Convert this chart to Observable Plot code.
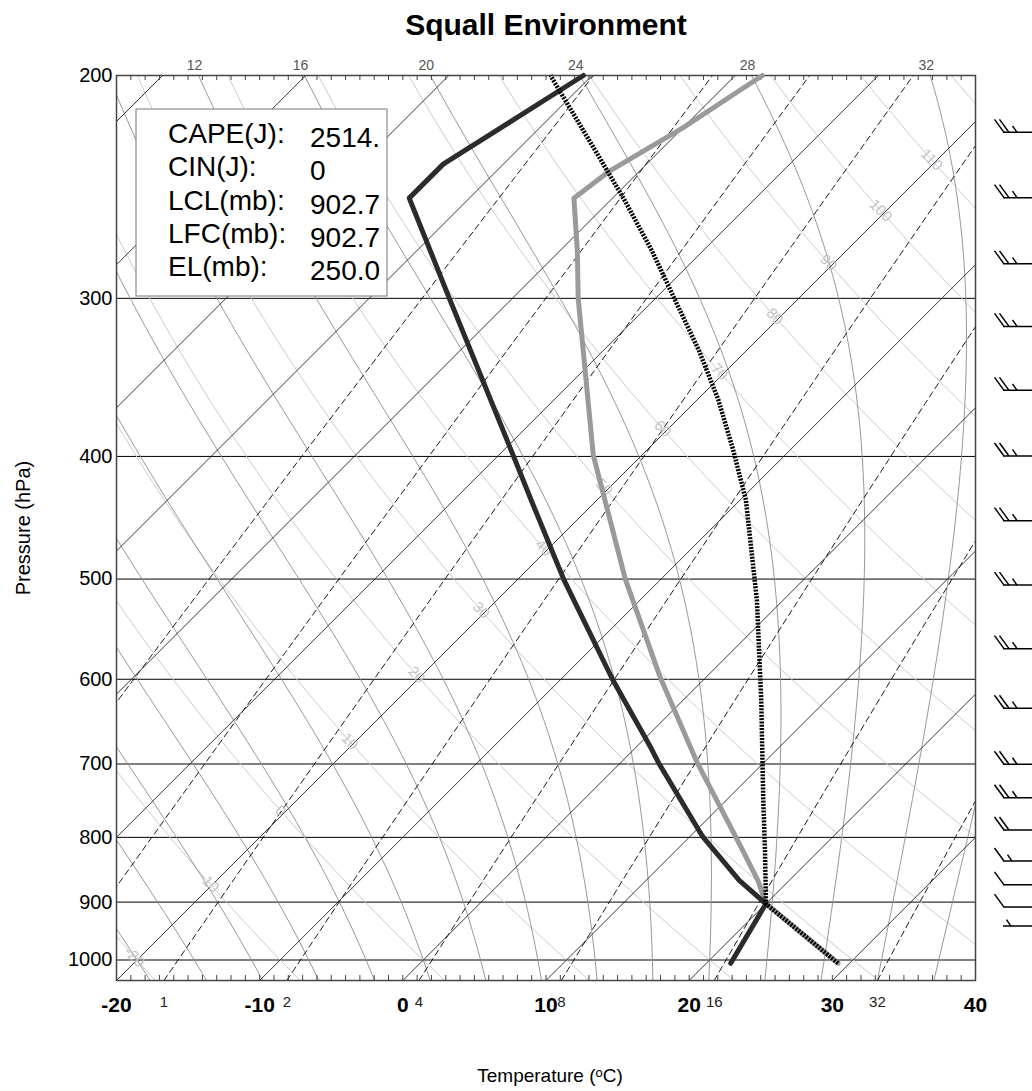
<!DOCTYPE html>
<html>
<head>
<meta charset="utf-8">
<script src="https://cdn.jsdelivr.net/npm/d3@7"></script>
<script src="https://cdn.jsdelivr.net/npm/@observablehq/plot@0.6"></script>
<style>
  body { margin: 0; background: #fff; }
</style>
</head>
<body>
<div id="chart"></div>
<script>
// ---------------- data ----------------
const pTop = 200, pBottom = 1038;
const pressureTicks = [200, 300, 400, 500, 600, 700, 800, 900, 1000];
const isobars = [300, 400, 500, 600, 700, 800, 900, 1000];
const tempTicks = [-20, -10, 0, 10, 20, 30, 40];
const minorTempTicks = d3.range(-20, 41, 1);
const isotherms = d3.range(-80, 41, 10);
const dryThetas = d3.range(-20, 121, 10);          // dry adiabats (theta, degC)
const dryLabelThetas = d3.range(-20, 111, 10);
const moistThetaW = d3.range(-20, 37, 4);          // moist adiabats (theta-w, degC)
const mixingRatios = [0.2, 0.5, 1, 2, 4, 8, 16, 32]; // g/kg
const mixingLabels = [1, 2, 4, 8, 16, 32];

// environmental temperature (hPa, degC)
const tempP = [1006, 902.7, 865, 799, 699, 599, 500, 399, 300, 275, 250, 238, 220, 200];
const tempT = [29.2, 20.0, 17.8, 13.2, 5.4, -3.1, -12.5, -23.4, -35.4, -38.8, -42.7, -42.1, -40.0, -38.1];
// dew point
const dewP = [1006, 902.7, 865, 799, 699, 680, 600, 501, 433, 399, 300, 250, 235, 200];
const dewT = [21.7, 20.0, 16.5, 10.9, 2.7, 1.1, -6.4, -16.7, -24.6, -29.0, -44.4, -54.2, -54.2, -50.6];
// lifted parcel
const parcelP = [1006, 902.7, 819, 748, 624, 520, 433, 396, 361, 330, 301, 275, 251, 229, 209, 200];
const parcelT = [29.2, 20.0, 16.2, 12.6, 5.5, -1.8, -9.6, -13.9, -18.5, -23.3, -28.5, -33.6, -39.0, -44.6, -50.2, -52.9];

// winds (hPa, knots, direction deg)
const windP     = [222, 250, 282, 316, 355, 400, 450, 506, 568, 633, 701, 745, 790, 836, 873, 909, 941];
const windSpeed = [25, 25, 25, 25, 25, 25, 25, 25, 25, 25, 25, 25, 20, 15, 10, 10, 5];
const windDir   = [270, 270, 270, 270, 270, 270, 270, 270, 270, 270, 270, 270, 270, 270, 270, 270, 270];

const legendLabels = ["CAPE(J):", "CIN(J):", "LCL(mb):", "LFC(mb):", "EL(mb):"];
const legendValues = ["2514.", "0", "902.7", "902.7", "250.0"];

// ---------------- geometry ----------------
const W = 1032, H = 1091, mL = 116, mR = 57, mT = 75, mB = 111;
const frameW = W - mL - mR, frameH = H - mT - mB;
// skew so that isotherms run at 45 degrees
const skew = (frameH / Math.log(pBottom / pTop)) / (frameW / 60);
const skewX = (T, p) => T + skew * Math.log(pBottom / p);

function esat(Tc) { return 6.112 * Math.exp(17.67 * Tc / (Tc + 243.5)); }
function thetaESat(Tc, p) {
  const T = Tc + 273.15, es = esat(Tc), r = 622 * es / (p - es);
  return T * Math.pow(1000 / p, 0.2854 * (1 - 0.00028 * r)) *
         Math.exp((3.376 / T - 0.00254) * r * (1 + 0.00081 * r));
}
function moistT(the, p) {
  let lo = -130, hi = 45;
  for (let k = 0; k < 60; k++) {
    const mid = (lo + hi) / 2;
    if (thetaESat(mid, p) > the) hi = mid; else lo = mid;
  }
  return (lo + hi) / 2;
}
function mixT(w, p) {
  const es = w * p / (622 + w), L = Math.log(es / 6.112);
  return 243.5 * L / (17.67 - L);
}

const samples = d3.range(0, 81).map(i => pBottom * Math.pow(pTop / pBottom, i / 80));
const isothermLines = isotherms.flatMap(T => [pBottom, pTop].map(p => ({id: T, X: skewX(T, p), p})));
const dryLines = dryThetas.flatMap(th => samples.map(p => ({id: th, X: skewX((th + 273.15) * Math.pow(p / 1000, 0.2857) - 273.15, p), p})));
const moistLines = moistThetaW.flatMap(tw => {
  const the = thetaESat(tw, 1000);
  return samples.map(p => ({id: tw, X: skewX(moistT(the, p), p), p}));
});
const mixLines = mixingRatios.flatMap(w => samples.map(p => ({id: w, X: skewX(mixT(w, p), p), p})));

const labelIsotherm = -20.4;
const dryLabels = dryLabelThetas.map(th => {
  const p = 1000 * Math.pow((labelIsotherm + 273.15) / (th + 273.15), 1 / 0.2857);
  return {X: skewX(labelIsotherm, p), p, text: String(th)};
});
const moistTopLabels = moistThetaW.map(tw => {
  const X = skewX(moistT(thetaESat(tw, 1000), pTop), pTop);
  return {X, p: pTop, text: String(tw)};
}).filter(d => d.X > -19 && d.X < 39);
const mixBottomLabels = mixingLabels.map(w => ({X: mixT(w, pBottom), p: pBottom, text: String(w)}));

const toPts = (P, T) => P.map((p, i) => ({X: skewX(T[i], p), p}));
const tempPts = toPts(tempP, tempT);
const dewPts = toPts(dewP, dewT);
const parcelPts = toPts(parcelP, parcelT);

// ---------------- custom marks ----------------
function windBarbs(index, scales, values, dim) {
  const g = d3.create("svg:g").attr("stroke", "#000").attr("stroke-width", 1.5).attr("fill", "none");
  const L = 40;
  const stationX = dim.width - dim.marginRight + 28 + L;
  windP.forEach((p, i) => {
    const y = scales.y(p);
    const spd = windSpeed[i];
    const b = g.append("g").attr("transform", `translate(${stationX},${y}) rotate(${windDir[i] - 270})`);
    b.append("line").attr("x1", 0).attr("y1", 0).attr("x2", -L).attr("y2", 0);
    const nFull = Math.floor(spd / 10), half = (spd % 10) >= 5;
    for (let k = 0; k < nFull; k++) {
      const bx = -L + 1 + 5 * k;
      b.append("line").attr("x1", bx).attr("y1", 0).attr("x2", bx - 9.5).attr("y2", -13);
    }
    if (half) {
      const bx = nFull ? -L + 1 + 5 * nFull + 3 : -L + 8;
      b.append("line").attr("x1", bx).attr("y1", 0).attr("x2", bx - 4.5).attr("y2", -6.5);
    }
  });
  return g.node();
}

function legendBox(index, scales, values, dim) {
  const g = d3.create("svg:g").attr("text-anchor", "start");
  const x0 = dim.marginLeft + 20, y0 = dim.marginTop + 34;
  g.append("rect").attr("x", x0).attr("y", y0).attr("width", 251).attr("height", 187)
    .attr("fill", "white").attr("stroke", "#777").attr("stroke-width", 1);
  legendLabels.forEach((t, i) => {
    g.append("text").attr("x", x0 + 32).attr("y", y0 + 34 + i * 33.3)
      .attr("font-size", 28).attr("fill", "#000").attr("text-anchor", "start").text(t);
    g.append("text").attr("x", x0 + 174).attr("y", y0 + 38 + i * 33.3)
      .attr("font-size", 28).attr("fill", "#000").attr("text-anchor", "start").text(legendValues[i]);
  });
  return g.node();
}

// ---------------- plot ----------------
const chart = Plot.plot({
  width: W, height: H,
  marginLeft: mL, marginRight: mR, marginTop: mT, marginBottom: mB,
  style: {fontFamily: "'Liberation Sans', Arial, Helvetica, sans-serif", background: "white", overflow: "visible"},
  x: {domain: [-20, 40], axis: null},
  y: {type: "log", domain: [pBottom, pTop], axis: null},
  marks: [
    Plot.ruleY(isobars, {y: d => d, stroke: "#000", strokeWidth: 1}),
    Plot.line(dryLines, {x: "X", y: "p", z: "id", stroke: "#cccccc", strokeWidth: 1, clip: true}),
    Plot.line(moistLines, {x: "X", y: "p", z: "id", stroke: "#8c8c8c", strokeWidth: 0.9, clip: true}),
    Plot.line(mixLines, {x: "X", y: "p", z: "id", stroke: "#000", strokeWidth: 0.9, strokeDasharray: "6,4", clip: true}),
    Plot.line(isothermLines, {x: "X", y: "p", z: "id", stroke: "#222", strokeWidth: 0.9, clip: true}),
    Plot.text(dryLabels, {x: "X", y: "p", text: "text", rotate: 45, fill: "#c4c4c4", fontSize: 15}),
    Plot.text(moistTopLabels, {x: "X", y: "p", text: "text", dx: -4, dy: -10, fill: "#555", fontSize: 14}),
    Plot.text(mixBottomLabels, {x: "X", y: "p", text: "text", dy: 22, fill: "#222", fontSize: 15}),
    Plot.ruleX(minorTempTicks, {x: d => d, insetTop: frameH - 5, stroke: "#444"}),
    Plot.ruleX(minorTempTicks, {x: d => d, insetBottom: frameH - 5, stroke: "#444"}),
    Plot.frame({stroke: "#444", strokeWidth: 1.5}),
    Plot.axisX({ticks: tempTicks, tickSize: 0, tickPadding: 17, fontSize: 21, fontWeight: "bold", label: null, tickFormat: d => String(d)}),
    Plot.axisY({ticks: pressureTicks, tickSize: 0, tickPadding: 4, fontSize: 20, label: null, tickFormat: d => String(d)}),
    // sounding
    Plot.line(tempPts, {x: "X", y: "p", stroke: "#9a9a9a", strokeWidth: 5}),
    Plot.line(dewPts, {x: "X", y: "p", stroke: "#2b2b2b", strokeWidth: 5}),
    Plot.line(parcelPts, {x: "X", y: "p", stroke: "#000", strokeWidth: 4.5, strokeDasharray: "2,1.3", strokeLinecap: "butt"}),
    legendBox,
    windBarbs,
    // titles
    Plot.text(["Squall Environment"], {text: d => d, frameAnchor: "top", lineAnchor: "middle", dy: -50, fontSize: 30, fontWeight: "bold", fill: "#000"}),
    Plot.text(["Temperature (ᵒC)"], {text: d => d, frameAnchor: "bottom", lineAnchor: "middle", dx: 4, dy: 95, fontSize: 19, fill: "#000"}),
    Plot.text(["Pressure (hPa)"], {text: d => d, frameAnchor: "left", textAnchor: "middle", dx: -93, rotate: -90, fontSize: 20, fill: "#000"})
  ]
});
document.getElementById("chart").appendChild(chart);
</script>
</body>
</html>
